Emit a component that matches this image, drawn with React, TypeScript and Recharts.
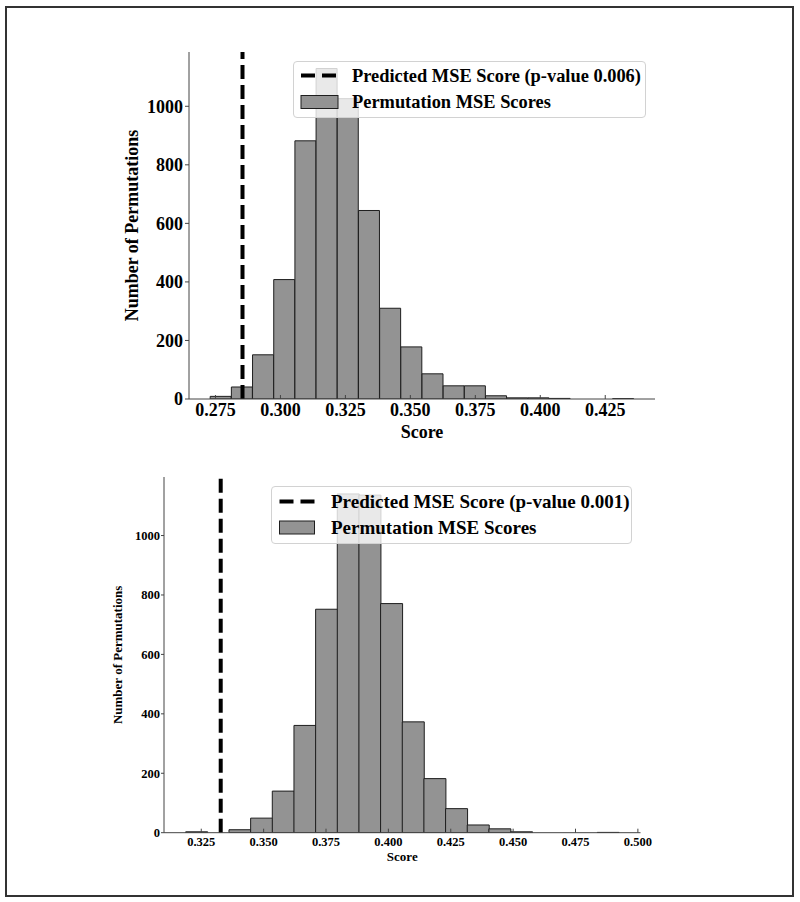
import { Bar, ComposedChart, Label, Legend, ReferenceLine, XAxis, YAxis } from 'recharts';

// upper panel: permutation test histogram (20 bins)
const topCounts = [9, 41, 151, 408, 882, 1129, 1026, 644, 310, 178, 86, 45, 45, 11, 4, 4, 2, 0, 0, 1];
const topBinStart = 0.27296;
const topBinWidth = 0.008152;
const topPredicted = 0.2854;
const topPValue = '0.006';
const topXTicks = [0.275, 0.3, 0.325, 0.35, 0.375, 0.4, 0.425];

// lower panel
const bottomCounts = [3, 0, 10, 49, 140, 361, 752, 1140, 1136, 771, 373, 182, 81, 26, 13, 3, 0, 0, 0, 1];
const bottomBinStart = 0.31875;
const bottomBinWidth = 0.008681;
const bottomPredicted = 0.3328;
const bottomPValue = '0.001';
const bottomXTicks = [0.325, 0.35, 0.375, 0.4, 0.425, 0.45, 0.475, 0.5];

const yTicks = [0, 200, 400, 600, 800, 1000];

const FONT = "'Liberation Serif', 'Times New Roman', serif";
const BAR_FILL = '#939393';
const EDGE = '#1e1e1e';
const AXIS = '#444';

function toBins(counts: number[], start: number, width: number) {
  return counts.map((count, i) => ({ mid: start + (i + 0.5) * width, count }));
}

type Layout = {
  top: number;
  height: number;
  margin: { top: number; right: number; bottom: number; left: number };
  tickFont: number;
  titleFont: number;
  legendFont: number;
  xTickDy: number;
  xTitleDy: number;
  yTitleX: number;
  yTickSize: number;
  yTickMargin: number;
  legendBox: { left: number; top: number; width: number; height: number };
  handle: { x0: number; x1: number; row1: number; row2: number; textX: number };
};

const topLayout: Layout = {
  top: 0,
  height: 450,
  margin: { top: 52, right: 145, bottom: 11, left: 129 },
  tickFont: 18,
  titleFont: 18,
  legendFont: 18.4,
  xTickDy: 17,
  xTitleDy: 38.5,
  yTitleX: 137.5,
  yTickSize: 4,
  yTickMargin: 2,
  legendBox: { left: 293, top: 61, width: 353, height: 57 },
  handle: { x0: 7, x1: 44, row1: 13.5, row2: 40, textX: 58 },
};

const bottomLayout: Layout = {
  top: 455,
  height: 447,
  margin: { top: 22, right: 159.5, bottom: 29.3, left: 104 },
  tickFont: 12.5,
  titleFont: 13,
  legendFont: 19,
  xTickDy: 13.3,
  xTitleDy: 28.5,
  yTitleX: 121.6,
  yTickSize: 3,
  yTickMargin: 1,
  legendBox: { left: 271, top: 31, width: 361, height: 58 },
  handle: { x0: 7.5, x1: 42.5, row1: 14.5, row2: 40.5, textX: 59 },
};

function Panel({
  counts,
  binStart,
  binWidth,
  predicted,
  pValue,
  xTicks,
  layout,
}: {
  counts: number[];
  binStart: number;
  binWidth: number;
  predicted: number;
  pValue: string;
  xTicks: number[];
  layout: Layout;
}) {
  const data = toBins(counts, binStart, binWidth);
  const span = counts.length * binWidth;
  const xDomain = [binStart - 0.05 * span, binStart + 1.05 * span];
  const yMax = Math.max(...counts) * 1.05;
  const L = layout;

  const XTick = (props: any) => {
    const { x, y, payload } = props;
    return (
      <g>
        <line x1={x} y1={y} x2={x} y2={y - 4} stroke={AXIS} />
        <text x={x} y={y + L.xTickDy} textAnchor="middle" fontSize={L.tickFont} fontWeight="bold" fontFamily={FONT} fill="#000">
          {Number(payload.value).toFixed(3)}
        </text>
      </g>
    );
  };

  const renderLegend = () => {
    const b = L.legendBox;
    const h = L.handle;
    return (
      <div
        style={{
          width: b.width,
          height: b.height,
          boxSizing: 'border-box',
          border: '1px solid #d2d2d2',
          borderRadius: 4,
          background: 'rgba(255,255,255,0.8)',
        }}
      >
        <svg width={b.width - 2} height={b.height - 2} style={{ display: 'block' }}>
          <line x1={h.x0} y1={h.row1} x2={h.x1} y2={h.row1} stroke="#000" strokeWidth={4} strokeDasharray="14 7" />
          <text x={h.textX} y={h.row1 + 6} fontSize={L.legendFont} fontWeight="bold" fontFamily={FONT} fill="#000">
            {`Predicted MSE Score (p-value ${pValue})`}
          </text>
          <rect x={h.x0} y={h.row2 - 6.5} width={h.x1 - h.x0} height={13} fill={BAR_FILL} stroke={EDGE} strokeWidth={1} />
          <text x={h.textX} y={h.row2 + 6} fontSize={L.legendFont} fontWeight="bold" fontFamily={FONT} fill="#000">
            Permutation MSE Scores
          </text>
        </svg>
      </div>
    );
  };

  return (
    <div style={{ position: 'absolute', left: 0, top: L.top }}>
      <ComposedChart width={800} height={L.height} data={data} margin={L.margin} barCategoryGap={0} barGap={0}>
        <XAxis
          type="number"
          dataKey="mid"
          domain={xDomain}
          ticks={xTicks}
          interval={0}
          allowDataOverflow
          height={40}
          tickSize={0}
          tickMargin={0}
          tickLine={false}
          axisLine={{ stroke: AXIS }}
          tick={<XTick />}
        >
          <Label
            content={(p: any) => {
              const vb = p.viewBox;
              return (
                <text
                  x={vb.x + vb.width / 2}
                  y={vb.y + L.xTitleDy}
                  textAnchor="middle"
                  fontSize={L.titleFont}
                  fontWeight="bold"
                  fontFamily={FONT}
                  fill="#000"
                >
                  Score
                </text>
              );
            }}
          />
        </XAxis>
        <YAxis
          type="number"
          domain={[0, yMax]}
          ticks={yTicks}
          interval={0}
          allowDataOverflow
          width={60}
          tickSize={L.yTickSize}
          tickMargin={L.yTickMargin}
          tickLine={{ stroke: AXIS }}
          axisLine={{ stroke: AXIS }}
          tick={{ fontSize: L.tickFont, fontWeight: 'bold', fontFamily: FONT, fill: '#000' }}
        >
          <Label
            content={(p: any) => {
              const vb = p.viewBox;
              const cy = vb.y + vb.height / 2;
              return (
                <text
                  x={L.yTitleX}
                  y={cy}
                  transform={`rotate(-90 ${L.yTitleX} ${cy})`}
                  textAnchor="middle"
                  fontSize={L.titleFont}
                  fontWeight="bold"
                  fontFamily={FONT}
                  fill="#000"
                >
                  Number of Permutations
                </text>
              );
            }}
          />
        </YAxis>
        <Bar dataKey="count" name="Permutation MSE Scores" fill={BAR_FILL} stroke={EDGE} strokeWidth={1} isAnimationActive={false} />
        <ReferenceLine x={predicted} stroke="#000" strokeWidth={4} strokeDasharray="14 6" />
        <Legend
          layout="horizontal"
          verticalAlign="middle"
          align="center"
          content={renderLegend}
          wrapperStyle={{
            left: L.legendBox.left,
            top: L.legendBox.top,
            width: L.legendBox.width,
            height: L.legendBox.height,
            margin: 0,
          }}
        />
      </ComposedChart>
    </div>
  );
}

export default function App() {
  return (
    <div style={{ position: 'absolute', left: 0, top: 0, width: 800, height: 902, background: '#fff' }}>
      <div
        style={{
          position: 'absolute',
          left: 5,
          top: 6,
          width: 789,
          height: 891,
          boxSizing: 'border-box',
          border: '2px solid #333',
        }}
      />
      <Panel
        counts={topCounts}
        binStart={topBinStart}
        binWidth={topBinWidth}
        predicted={topPredicted}
        pValue={topPValue}
        xTicks={topXTicks}
        layout={topLayout}
      />
      <Panel
        counts={bottomCounts}
        binStart={bottomBinStart}
        binWidth={bottomBinWidth}
        predicted={bottomPredicted}
        pValue={bottomPValue}
        xTicks={bottomXTicks}
        layout={bottomLayout}
      />
    </div>
  );
}
